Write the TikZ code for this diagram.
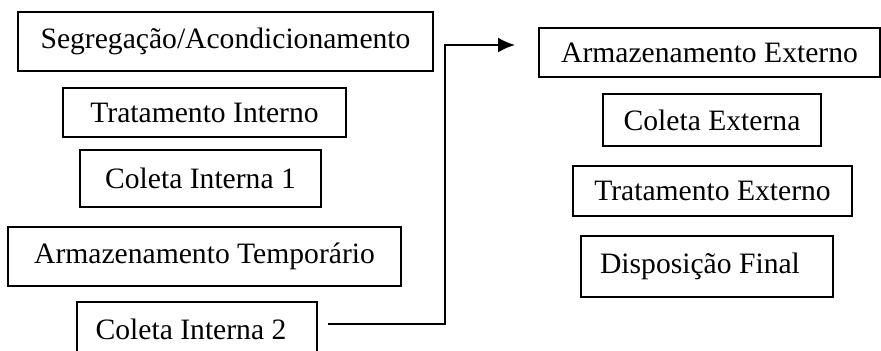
\documentclass[tikz,border=0pt]{standalone}
\usepackage{fontspec}
\setmainfont{Liberation Serif}
\usetikzlibrary{arrows.meta}

\begin{document}
\begin{tikzpicture}[x=0.5pt,y=-0.5pt,>={Latex[length=8.5pt,width=7.5pt]},
  caixa/.style 2 args={draw,line width=0.7pt,inner sep=0pt,
    minimum width=#1*0.5pt,minimum height=#2*0.5pt,
    font=\fontsize{14.8}{17}\selectfont}]

\useasboundingbox (0,0) rectangle (881,350);

% etapas internas
\node[caixa={415}{59}] (seg) at (225.5,41.5) {Segregação/Acondicionamento};
\node[caixa={283}{49}] (ti) at (204.5,112.5) {Tratamento Interno};
\node[caixa={241}{57}] (ci1) at (200.5,178.5) {Coleta Interna 1};
\node[caixa={393}{59}] (at) at (204.5,256.5) {Armazenamento Temporário};
\node[caixa={240}{54}] (ci2) at (197,329) {\hspace*{-6pt}Coleta Interna 2};

% etapas externas
\node[caixa={341}{49}] (ae) at (709.5,52.5) {Armazenamento Externo};
\node[caixa={218}{52}] (ce) at (712,120) {Coleta Externa};
\node[caixa={279}{50}] (te) at (712.5,191) {Tratamento Externo};
\node[caixa={252}{61}] (df) at (707,266.5) {\hspace*{-7pt}Disposição Final};

% ligacao
\coordinate (saida) at (328,324);
\coordinate (dobra) at (445,45);
\coordinate (entrada) at (515,45);
\draw[->,line width=1pt] (saida) -| (dobra) -- (entrada);

\end{tikzpicture}
\end{document}
